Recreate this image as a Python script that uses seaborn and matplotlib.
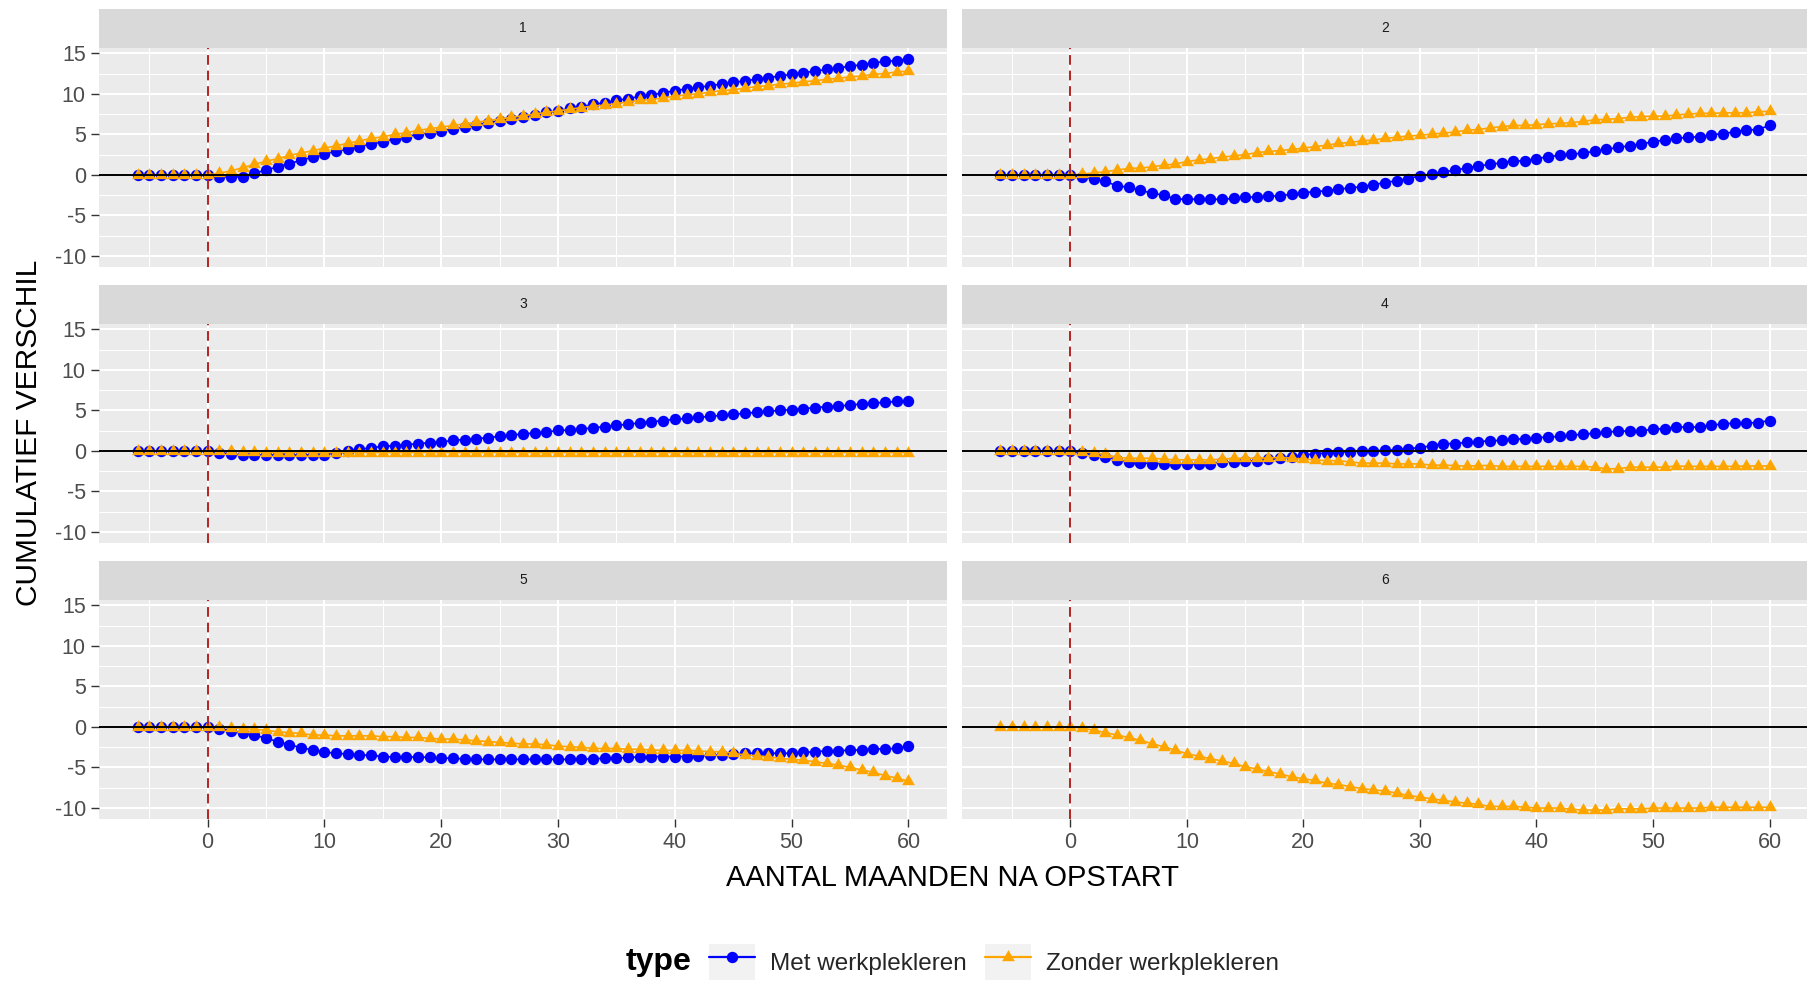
import numpy as np
import pandas as pd
import matplotlib
matplotlib.use("Agg")
import matplotlib.pyplot as plt
from matplotlib.lines import Line2D
from matplotlib.patches import Patch
from matplotlib.legend_handler import HandlerTuple
from matplotlib.markers import MarkerStyle
from matplotlib.ticker import MultipleLocator, FixedLocator
import seaborn as sns

# ---------------- data ----------------
months = list(range(-6, 61))
panels = ["1", "2", "3", "4", "5", "6"]
types = ["Met werkplekleren", "Zonder werkplekleren"]
pre = [0, 0, 0, 0, 0, 0, 0]

p1_met = pre + [
    -0.2, -0.3, -0.2, 0.2, 0.6, 1.0, 1.4, 1.8, 2.2, 2.6,
    2.9, 3.2, 3.5, 3.8, 4.1, 4.4, 4.7, 5.0, 5.2, 5.4,
    5.7, 5.9, 6.2, 6.4, 6.7, 6.9, 7.2, 7.4, 7.7, 7.9,
    8.2, 8.4, 8.7, 8.9, 9.2, 9.4, 9.7, 9.9, 10.1, 10.4,
    10.6, 10.8, 11.0, 11.2, 11.4, 11.6, 11.8, 12.0, 12.2, 12.4,
    12.6, 12.8, 13.0, 13.2, 13.4, 13.6, 13.8, 14.0, 14.1, 14.3]
p1_zonder = pre + [
    0.2, 0.5, 0.9, 1.3, 1.7, 2.0, 2.4, 2.7, 3.0, 3.3,
    3.6, 3.9, 4.2, 4.5, 4.7, 5.0, 5.2, 5.5, 5.7, 5.9,
    6.1, 6.3, 6.5, 6.7, 6.9, 7.1, 7.3, 7.5, 7.7, 7.9,
    8.1, 8.3, 8.5, 8.6, 8.8, 9.0, 9.2, 9.3, 9.5, 9.7,
    9.9, 10.0, 10.2, 10.4, 10.5, 10.7, 10.9, 11.0, 11.2, 11.3,
    11.5, 11.6, 11.8, 11.9, 12.1, 12.2, 12.4, 12.5, 12.7, 12.8]
p2_met = pre + [
    -0.3, -0.5, -0.8, -1.35, -1.5, -1.9, -2.25, -2.5, -2.95, -3.0,
    -3.0, -3.0, -3.0, -2.9, -2.75, -2.7, -2.65, -2.55, -2.4, -2.2,
    -2.05, -1.95, -1.75, -1.6, -1.45, -1.2, -0.95, -0.7, -0.45, -0.1,
    0.1, 0.35, 0.6, 0.85, 1.1, 1.3, 1.5, 1.7, 1.75, 2.0,
    2.25, 2.4, 2.6, 2.65, 2.95, 3.15, 3.4, 3.6, 3.8, 4.1,
    4.3, 4.5, 4.65, 4.7, 4.95, 5.1, 5.3, 5.55, 5.6, 6.1]
p2_zonder = pre + [
    0.1, 0.25, 0.4, 0.6, 0.8, 0.85, 1.0, 1.2, 1.35, 1.65,
    1.85, 2.0, 2.2, 2.35, 2.5, 2.75, 2.9, 3.0, 3.15, 3.3,
    3.5, 3.65, 3.9, 4.0, 4.2, 4.3, 4.5, 4.65, 4.8, 4.9,
    5.05, 5.15, 5.3, 5.5, 5.6, 5.8, 5.95, 6.1, 6.1, 6.2,
    6.3, 6.35, 6.45, 6.6, 6.8, 6.85, 6.95, 7.1, 7.2, 7.25,
    7.25, 7.4, 7.5, 7.6, 7.6, 7.65, 7.65, 7.65, 7.8, 7.85]
p3_met = pre + [
    -0.2, -0.4, -0.5, -0.5, -0.5, -0.5, -0.5, -0.5, -0.5, -0.45,
    -0.2, 0.0, 0.2, 0.4, 0.55, 0.65, 0.75, 0.9, 1.0, 1.1,
    1.3, 1.4, 1.5, 1.65, 1.8, 2.0, 2.05, 2.25, 2.3, 2.55,
    2.55, 2.7, 2.85, 3.0, 3.15, 3.3, 3.45, 3.6, 3.75, 3.9,
    4.0, 4.15, 4.25, 4.4, 4.5, 4.65, 4.75, 4.9, 5.0, 5.1,
    5.2, 5.35, 5.45, 5.55, 5.65, 5.8, 5.9, 6.0, 6.1, 6.2]
p3_zonder = pre + [
    0.0, -0.05, -0.1, -0.15, -0.2, -0.2, -0.2, -0.2, -0.2, -0.2,
    -0.2, -0.2, -0.2, -0.2, -0.2, -0.2, -0.2, -0.2, -0.2, -0.2,
    -0.2, -0.2, -0.2, -0.2, -0.2, -0.2, -0.2, -0.2, -0.2, -0.2,
    -0.2, -0.2, -0.2, -0.2, -0.2, -0.2, -0.2, -0.2, -0.2, -0.2,
    -0.2, -0.2, -0.2, -0.2, -0.2, -0.2, -0.2, -0.2, -0.2, -0.2,
    -0.2, -0.2, -0.2, -0.2, -0.2, -0.2, -0.2, -0.2, -0.2, -0.2]
p4_met = pre + [
    -0.3, -0.45, -0.7, -1.1, -1.35, -1.45, -1.55, -1.55, -1.65, -1.65,
    -1.65, -1.55, -1.35, -1.35, -1.3, -1.2, -1.05, -0.9, -0.7, -0.5,
    -0.35, -0.25, -0.15, -0.1, 0.0, 0.0, 0.1, 0.15, 0.3, 0.4,
    0.65, 0.9, 0.9, 1.05, 1.15, 1.25, 1.3, 1.45, 1.5, 1.65,
    1.7, 1.8, 1.95, 2.05, 2.2, 2.3, 2.45, 2.45, 2.45, 2.7,
    2.75, 2.95, 2.95, 2.95, 3.2, 3.3, 3.45, 3.45, 3.5, 3.75]
p4_zonder = pre + [
    -0.1, -0.2, -0.4, -0.8, -0.9, -0.9, -0.9, -1.0, -1.1, -1.1,
    -1.1, -1.1, -1.0, -0.9, -0.9, -0.9, -0.85, -0.8, -0.9, -1.0,
    -1.1, -1.2, -1.2, -1.35, -1.5, -1.5, -1.5, -1.6, -1.6, -1.6,
    -1.75, -1.75, -1.8, -1.9, -1.8, -1.8, -1.9, -1.9, -1.9, -1.9,
    -1.9, -1.9, -1.9, -1.9, -2.0, -2.2, -2.2, -2.0, -2.0, -2.0,
    -2.0, -1.85, -1.9, -1.9, -1.9, -1.9, -1.9, -1.85, -1.85, -1.85]
p5_met = pre + [
    -0.2, -0.5, -0.8, -1.0, -1.4, -1.8, -2.2, -2.55, -2.85, -3.1,
    -3.25, -3.35, -3.45, -3.5, -3.65, -3.7, -3.7, -3.7, -3.75, -3.85,
    -3.85, -3.95, -4.0, -4.0, -4.0, -4.0, -4.0, -4.0, -4.0, -4.0,
    -4.0, -3.95, -3.95, -3.85, -3.85, -3.75, -3.7, -3.65, -3.65, -3.65,
    -3.65, -3.6, -3.5, -3.45, -3.35, -3.25, -3.25, -3.25, -3.25, -3.25,
    -3.15, -3.05, -2.95, -2.95, -2.85, -2.85, -2.7, -2.7, -2.65, -2.35]
p5_zonder = pre + [
    0.0, -0.1, -0.2, -0.3, -0.4, -0.6, -0.7, -0.8, -1.0, -1.0,
    -1.1, -1.1, -1.1, -1.1, -1.2, -1.2, -1.3, -1.3, -1.4, -1.5,
    -1.5, -1.6, -1.7, -1.8, -1.9, -2.0, -2.1, -2.1, -2.2, -2.35,
    -2.45, -2.5, -2.65, -2.65, -2.65, -2.75, -2.75, -2.85, -2.9, -2.9,
    -2.9, -2.95, -3.05, -3.05, -3.25, -3.45, -3.55, -3.7, -3.85, -4.0,
    -4.1, -4.3, -4.5, -4.7, -5.0, -5.3, -5.6, -6.0, -6.3, -6.7]
p6_met = None
p6_zonder = pre + [
    -0.15, -0.4, -0.7, -1.0, -1.3, -1.65, -2.05, -2.45, -2.85, -3.3,
    -3.6, -3.9, -4.2, -4.5, -4.9, -5.2, -5.5, -5.8, -6.15, -6.4,
    -6.6, -6.95, -7.1, -7.35, -7.6, -7.75, -7.9, -8.15, -8.45, -8.65,
    -8.85, -9.05, -9.25, -9.4, -9.55, -9.8, -9.8, -9.8, -9.9, -10.0,
    -10.0, -10.0, -10.15, -10.25, -10.25, -10.25, -10.1, -10.1, -10.1, -10.0,
    -10.0, -10.0, -10.0, -10.0, -9.9, -9.9, -9.9, -9.9, -9.9, -9.9]

x_ticks = [0, 10, 20, 30, 40, 50, 60]
y_ticks = [-10, -5, 0, 5, 10, 15]

series = {
    "1": (p1_met, p1_zonder), "2": (p2_met, p2_zonder), "3": (p3_met, p3_zonder),
    "4": (p4_met, p4_zonder), "5": (p5_met, p5_zonder), "6": (p6_met, p6_zonder),
}
rows = []
for p in panels:
    for t, vals in zip(types, series[p]):
        if vals is None:
            continue
        for m, v in zip(months, vals):
            rows.append({"panel": p, "type": t, "maand": m, "waarde": v})
df = pd.DataFrame(rows)

# ---------------- style ----------------
sns.set_theme(style="darkgrid")
plt.rcParams["font.family"] = ["Liberation Sans", "DejaVu Sans"]
plt.rcParams["axes.unicode_minus"] = False

BLUE = "#0000FF"
ORANGE = "#FFA500"
tri = MarkerStyle([(0, 1), (-0.866, -0.5), (0.866, -0.5), (0, 1)])
MS_CIRC = 8.2
MS_TRI = 10.6
mstyle = {types[0]: dict(marker="o", markersize=MS_CIRC, color=BLUE),
          types[1]: dict(marker=tri, markersize=MS_TRI, color=ORANGE)}

W, H = 1808, 982
fig = plt.figure(figsize=(W / 100, H / 100), dpi=100)
fig.patch.set_facecolor("white")

col_px = [(99, 947), (962, 1808)]
row_px = [(9, 48, 267), (285, 324, 543), (561, 600, 819)]


def fx(px):
    return px / W


def fy(py):
    return 1 - py / H


for i, p in enumerate(panels):
    r, c = divmod(i, 2)
    x0, x1 = col_px[c]
    st, pt, pb = row_px[r]
    ax = fig.add_axes([fx(x0), fy(pb), (x1 - x0) / W, (pb - pt) / H])
    sax = fig.add_axes([fx(x0), fy(pt), (x1 - x0) / W, (pt - st) / H])

    # strip
    sax.set_facecolor("#D9D9D9")
    sax.set_xticks([]); sax.set_yticks([])
    for s in sax.spines.values():
        s.set_visible(False)
    sax.grid(False)
    sax.text(0.5, 0.5, p, ha="center", va="center", fontsize=10, color="#1A1A1A",
             transform=sax.transAxes)

    # panel
    ax.set_facecolor("#EBEBEB")
    sub = df[df.panel == p]
    for t in types:
        st_df = sub[sub.type == t]
        if st_df.empty:
            continue
        sns.lineplot(data=st_df, x="maand", y="waarde", ax=ax, estimator=None,
                     linewidth=1.2, markeredgewidth=0, legend=False, zorder=2,
                     **mstyle[t])
    ax.axhline(0, color="black", lw=1.4, zorder=5)
    ax.axvline(0, color="#B22222", lw=1.4, ls=(0, (5, 3)), zorder=5)

    ax.set_xlim(-9.3, 63.3)
    ax.set_ylim(-11.35, 15.65)
    ax.xaxis.set_major_locator(FixedLocator(x_ticks))
    ax.yaxis.set_major_locator(FixedLocator(y_ticks))
    ax.xaxis.set_minor_locator(MultipleLocator(5))
    ax.yaxis.set_minor_locator(MultipleLocator(2.5))
    ax.grid(which="major", color="white", lw=1.5)
    ax.grid(which="minor", color="white", lw=0.75)
    ax.set_axisbelow(True)
    for s in ax.spines.values():
        s.set_visible(False)
    ax.set_xlabel("")
    ax.set_ylabel("")
    ax.tick_params(which="minor", length=0)
    ax.tick_params(which="major", length=5.5, width=1.0, color="#333333",
                   labelsize=15.5, labelcolor="#4D4D4D", pad=4)
    if c != 0:
        ax.tick_params(axis="y", left=False, labelleft=False)
    else:
        ax.tick_params(axis="y", left=True, labelleft=True)
    if r != 2:
        ax.tick_params(axis="x", bottom=False, labelbottom=False)
    else:
        ax.tick_params(axis="x", bottom=True, labelbottom=True)

# axis titles
fig.text(fx(29), fy(433), "CUMULATIEF VERSCHIL", rotation=90, ha="center",
         va="center", fontsize=21.5, color="black")
fig.text(fx(953), fy(878), "AANTAL MAANDEN NA OPSTART", ha="center",
         va="center", fontsize=21, color="black")

# legend
h1 = (Patch(facecolor="#F2F2F2", edgecolor="none"),
      Line2D([], [], color=BLUE, marker="o", ms=MS_CIRC, lw=1.6, mew=0))
h2 = (Patch(facecolor="#F2F2F2", edgecolor="none"),
      Line2D([], [], color=ORANGE, marker=tri, ms=MS_TRI, lw=1.6, mew=0))
fig.legend([h1, h2], types, handler_map={tuple: HandlerTuple(ndivide=1, pad=0)},
           loc="center left", bbox_to_anchor=(fx(709), fy(962)), ncol=2,
           frameon=False, fontsize=17.5, handlelength=1.9, handleheight=1.85,
           handletextpad=0.6, columnspacing=0.75, borderpad=0, borderaxespad=0,
           numpoints=1)
fig.text(fx(626), fy(962), "type", fontweight="bold", fontsize=23, va="center",
         ha="left", color="black")

fig.savefig("out.png", dpi=100)
